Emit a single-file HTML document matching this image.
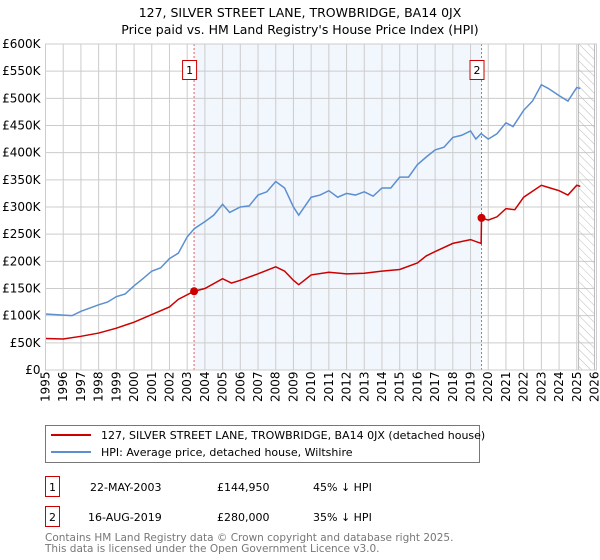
<!DOCTYPE html>
<html><head><meta charset="utf-8"><style>
body{margin:0;background:#fff;font-family:"Liberation Sans","DejaVu Sans",sans-serif;}
svg{display:block}
</style></head><body>
<svg width="600" height="560" xmlns="http://www.w3.org/2000/svg" font-family="DejaVu Sans, Liberation Sans, sans-serif">
<text x="300" y="17" text-anchor="middle" font-size="12.5">127, SILVER STREET LANE, TROWBRIDGE, BA14 0JX</text>
<text x="300" y="34" text-anchor="middle" font-size="12.5">Price paid vs. HM Land Registry's House Price Index (HPI)</text>
<g id="plot"></g>
<g>
<rect x="45.5" y="425.5" width="434" height="37" fill="#fff" stroke="#777"/>
<line x1="51" y1="435" x2="91" y2="435" stroke="#cc0000" stroke-width="2"/>
<text x="101" y="439" font-size="11">127, SILVER STREET LANE, TROWBRIDGE, BA14 0JX (detached house)</text>
<line x1="51" y1="452" x2="91" y2="452" stroke="#5b8fd0" stroke-width="2"/>
<text x="101" y="456" font-size="11">HPI: Average price, detached house, Wiltshire</text>
</g>
<g font-size="11">
<rect x="45.5" y="476.5" width="14" height="20" fill="#fff" stroke="#cc0000"/>
<text x="52.5" y="491" text-anchor="middle">1</text>
<text x="90" y="491">22-MAY-2003</text><text x="217" y="491">£144,950</text><text x="313" y="491">45% ↓ HPI</text>
<rect x="45.5" y="506.5" width="14" height="20" fill="#fff" stroke="#cc0000"/>
<text x="52.5" y="521" text-anchor="middle">2</text>
<text x="88" y="521">16-AUG-2019</text><text x="217" y="521">£280,000</text><text x="313" y="521">35% ↓ HPI</text>
</g>
<text x="45" y="541" font-size="10.5" fill="#777">Contains HM Land Registry data © Crown copyright and database right 2025.</text>
<text x="45" y="552" font-size="10.5" fill="#777">This data is licensed under the Open Government Licence v3.0.</text>
</svg>
<script>
const years=[1995,1996,1997,1998,1999,2000,2001,2002,2003,2004,2005,2006,2007,2008,2009,2010,2011,2012,2013,2014,2015,2016,2017,2018,2019,2020,2021,2022,2023,2024,2025,2026];
const yTicks=[0,50,100,150,200,250,300,350,400,450,500,550,600];
const hpiT=[1995,1996,1996.5,1997,1998,1998.5,1999,1999.5,2000,2000.5,2001,2001.5,2002,2002.5,2003,2003.4,2004,2004.5,2005,2005.4,2006,2006.5,2007,2007.5,2008,2008.5,2009,2009.3,2010,2010.5,2011,2011.5,2012,2012.5,2013,2013.5,2014,2014.5,2015,2015.5,2016,2016.5,2017,2017.5,2018,2018.5,2019,2019.3,2019.6,2020,2020.5,2021,2021.4,2022,2022.5,2023,2023.4,2024,2024.5,2025,2025.2];
const hpiV=[103,101,100,108,120,125,135,140,155,168,182,188,205,215,245,260,273,285,305,290,300,302,322,328,347,335,300,285,318,322,330,318,325,322,328,320,335,335,355,355,378,392,405,410,428,432,440,425,435,425,435,455,448,478,495,525,518,505,495,520,518];
const ppT=[1995,1996,1997,1998,1999,2000,2001,2002,2002.5,2003.39,2004,2005,2005.5,2006,2007,2008,2008.5,2009,2009.3,2010,2011,2012,2013,2014,2015,2016,2016.5,2017,2018,2019,2019.6,2019.62,2020,2020.5,2021,2021.5,2022,2023,2023.5,2024,2024.5,2025,2025.2];
const ppV=[58,57,62,68,77,88,102,116,130,144.95,150,168,160,165,177,190,182,165,157,175,180,177,178,182,185,197,210,218,233,240,233,280,276,282,297,295,318,340,335,330,322,340,338];
const saleT=[2003.39,2019.62];
const saleV=[144.95,280];
const saleLabels=["1","2"];
const X0=45.5,X1=594.5,Y0=370,Y1=44;
const xs=t=>X0+(t-1995)*(X1-X0)/31;
const ys=v=>Y0-v*(Y0-Y1)/600;
const NS="http://www.w3.org/2000/svg";
const g=document.getElementById('plot');
function mk(tag,attrs,parent){const e=document.createElementNS(NS,tag);for(const k in attrs)e.setAttribute(k,attrs[k]);(parent||g).appendChild(e);return e;}
const shade=mk('rect',{x:xs(saleT[0]),y:Y1,width:xs(saleT[1])-xs(saleT[0]),height:Y0-Y1,fill:'#f2f6fd'});


years.forEach(y=>{const l=mk('line',{x1:xs(y),x2:xs(y),y1:Y1,y2:Y0,stroke:'#cccccc'});


const t=mk('text',{x:0,y:0,'font-size':12,transform:`translate(${xs(y)+4},${Y0+32}) rotate(-90)`});t.textContent=y;

});
yTicks.forEach(v=>{const l=mk('line',{x1:X0,x2:X1,y1:ys(v),y2:ys(v),stroke:'#cccccc'});


const t=mk('text',{x:X0-5,y:ys(v)+4,'font-size':12,'text-anchor':'end'});t.textContent=v===0?'£0':'£'+v+'K';

});
const defs=mk('defs',{});
const pat=mk('pattern',{id:'hatch',width:6,height:6,patternUnits:'userSpaceOnUse',patternTransform:'rotate(-45)'},defs);
mk('line',{x1:0,y1:0,x2:0,y2:6,stroke:'#bbb','stroke-width':1},pat);
const hatch=mk('rect',{x:xs(2025.1),y:Y1,width:X1-xs(2025.1),height:Y0-Y1,fill:'url(#hatch)',stroke:'#bbb'});


saleT.forEach((t,i)=>{const l=mk('line',{x1:xs(t),x2:xs(t),y1:Y1,y2:Y0,stroke:'#e86060','stroke-dasharray':'2,2'});

});
const hp=mk('polyline',{points:hpiT.map((t,i)=>xs(t)+','+ys(hpiV[i])).join(' '),fill:'none',stroke:'#5b8fd0','stroke-width':1.5});


const pp=mk('polyline',{points:ppT.map((t,i)=>xs(t)+','+ys(ppV[i])).join(' '),fill:'none',stroke:'#cc0000','stroke-width':1.5});


saleT.forEach((t,i)=>{const c=mk('circle',{cx:xs(t),cy:ys(saleV[i]),r:4,fill:'#cc0000'});


const r=mk('rect',{x:xs(t)-11.5,y:60.5,width:14,height:19,fill:'#fff',stroke:'#cc0000'});


const tx=mk('text',{x:xs(t)-4.5,y:74,'font-size':11,'text-anchor':'middle'});tx.textContent=saleLabels[i];

});
const fr=mk('rect',{x:X0,y:Y1,width:X1-X0+2,height:Y0-Y1,fill:'none',stroke:'#cccccc'});


</script>
</body></html>
